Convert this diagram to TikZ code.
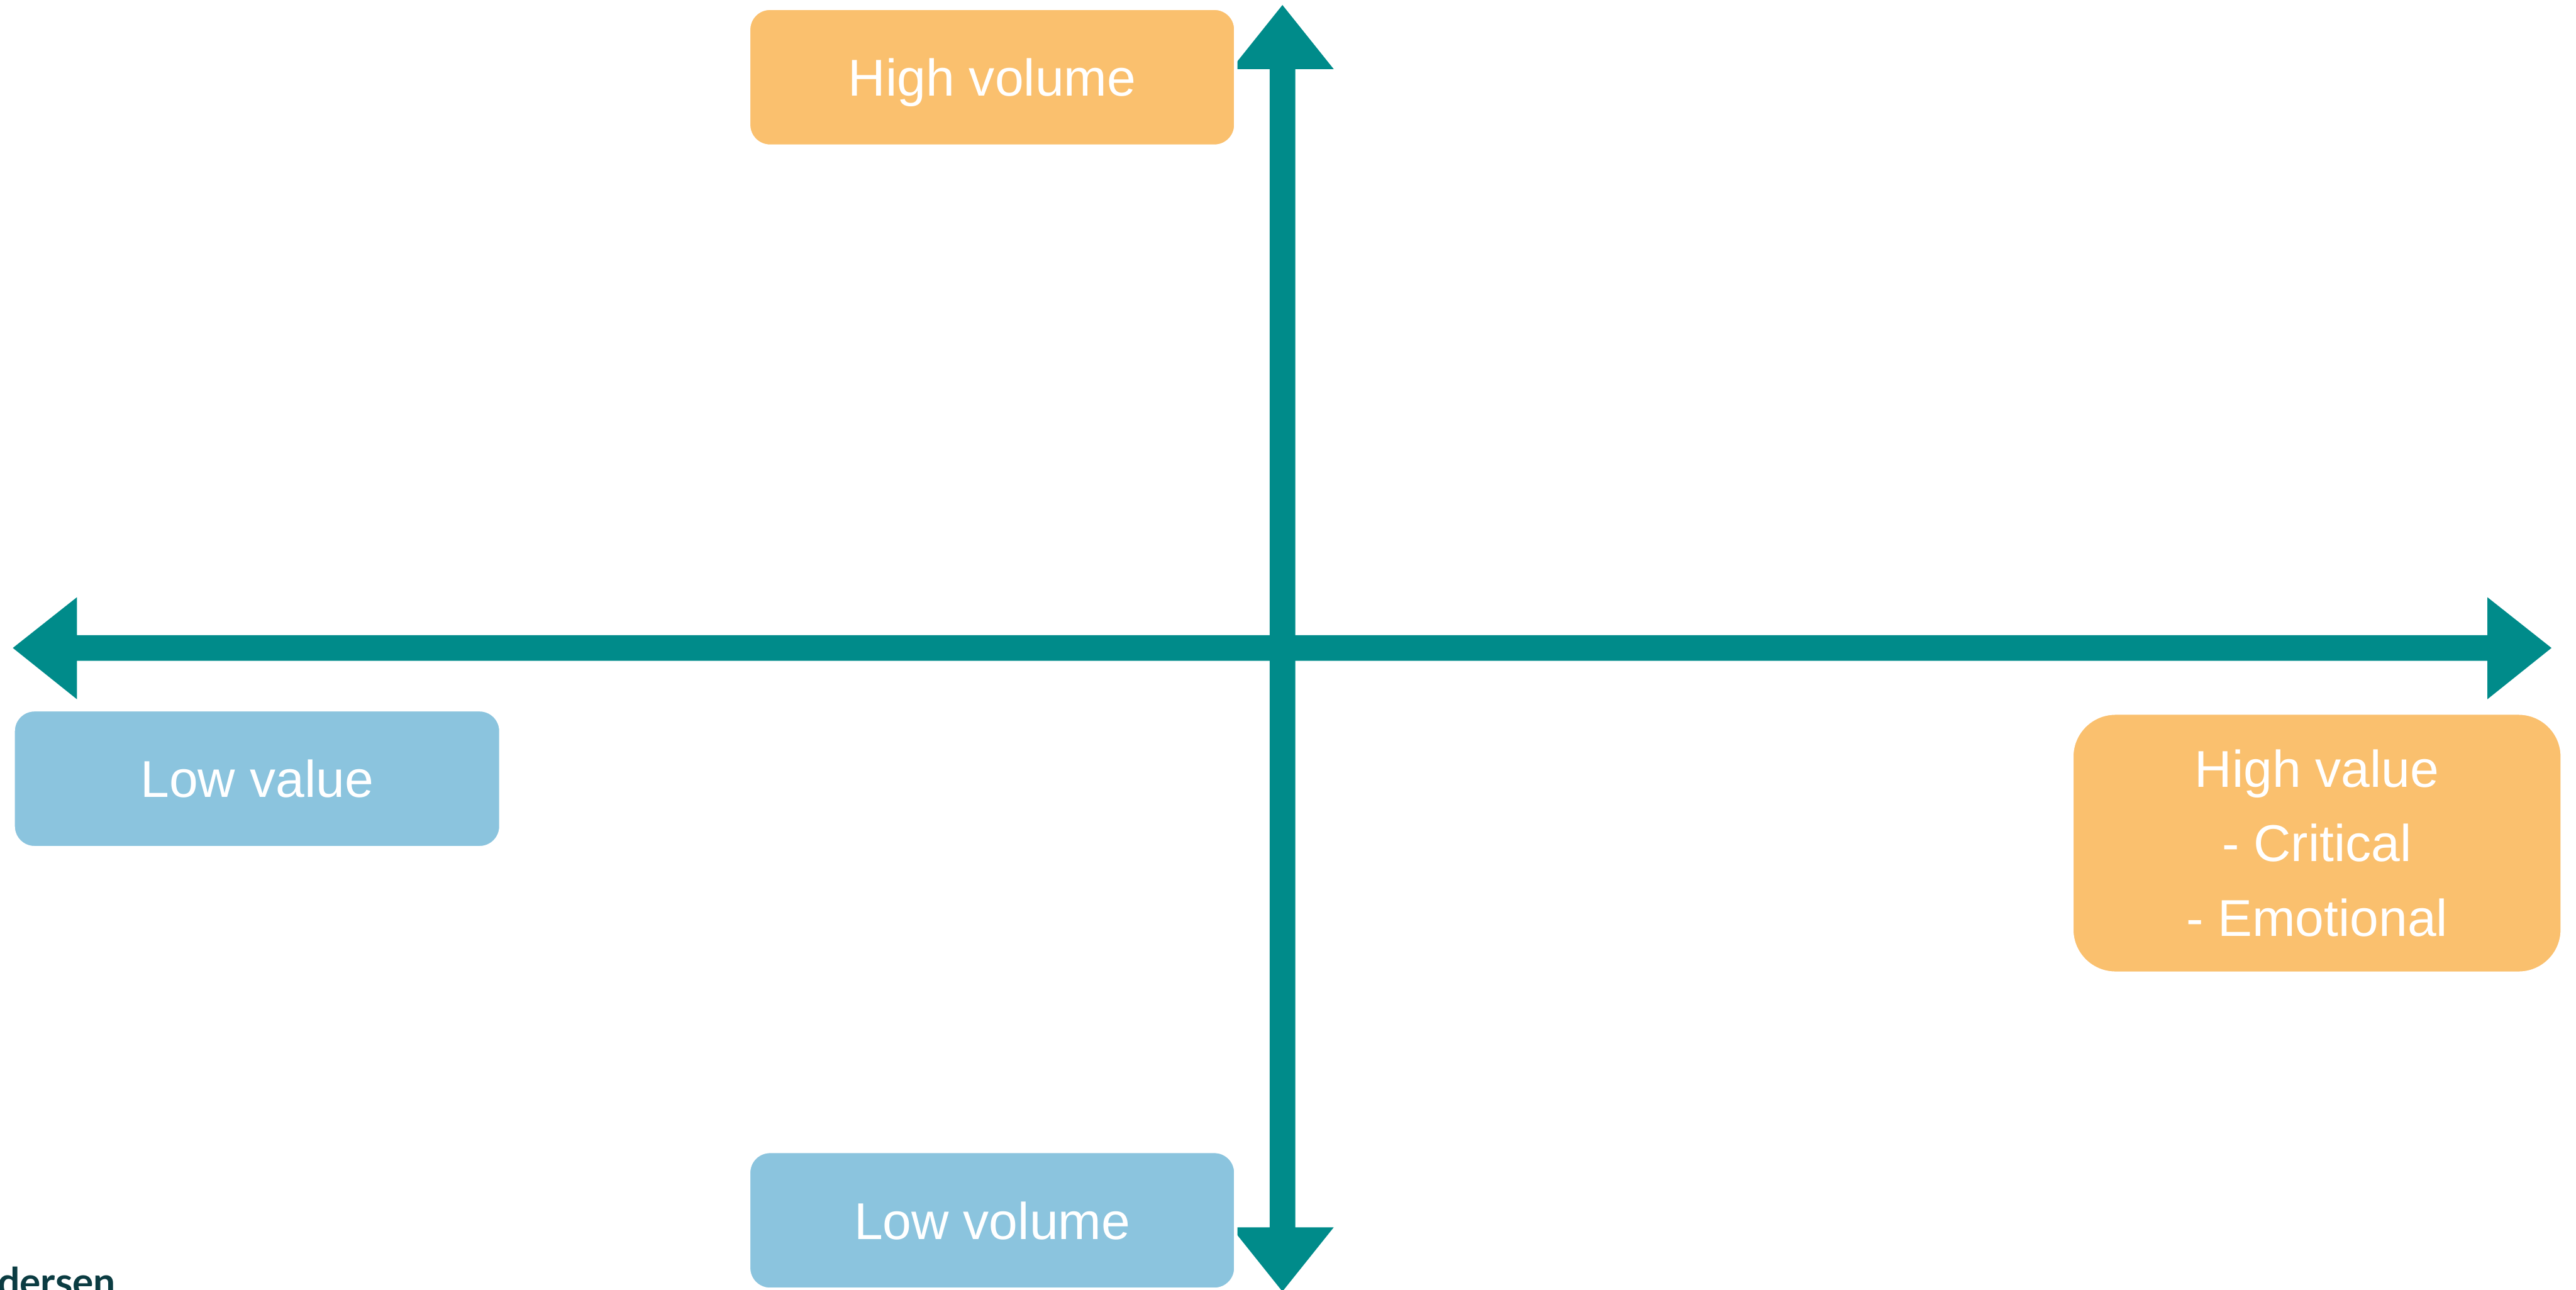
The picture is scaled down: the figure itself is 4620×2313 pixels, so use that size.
\documentclass[tikz,border=0pt]{standalone}
\usepackage{fontspec}
\usetikzlibrary{calc}
\setmainfont{Liberation Sans}
\newfontfamily\logofont{Lato}
\definecolor{axisteal}{RGB}{0,139,138}
\definecolor{boxorange}{RGB}{250,192,110}
\definecolor{boxblue}{RGB}{139,196,222}
\definecolor{logoteal}{RGB}{11,60,66}
\begin{document}
\begin{tikzpicture}[x=0.01cm,y=-0.01cm,
  label box/.style={rectangle, rounded corners=0.38cm, draw=white, line width=0.06cm,
    text=white, inner sep=0pt, align=center,
    font=\fontsize{26.4pt}{38.1pt}\selectfont},
  hi/.style={label box, fill=boxorange},
  lo/.style={label box, fill=boxblue},
  axis/.style={fill=axisteal}]
\useasboundingbox (0,0) rectangle (4620,2313);
\clip (0,0) rectangle (4620,2313);

% origin and axis ends
\coordinate (O) at (2300,1162);
\coordinate (W) at (23,1162);
\coordinate (E) at (4576,1162);
\coordinate (N) at (2300,9);
\coordinate (S) at (2300,2316);

% horizontal axis: value
\fill[axis] (W) -- ++(115,-91) -- ++(0,68) -- ($(E)+(-115,-23)$) -- ++(0,-68)
  -- (E) -- ++(-115,92) -- ++(0,-69) -- ($(W)+(115,23)$) -- ++(0,69) -- cycle;

% vertical axis: volume
\fill[axis] (N) -- ++(92,115) -- ++(-69,0) -- ($(S)+(23,-115)$) -- ++(69,0)
  -- (S) -- ++(-92,-115) -- ++(69,0) -- ($(N)+(-23,115)$) -- ++(-69,0) -- cycle;

% quadrant labels
\node[hi, minimum width=8.73cm, minimum height=2.47cm, text depth=0pt] (highvol) at (1779.5,138.5) {High volume};
\node[lo, minimum width=8.73cm, minimum height=2.47cm, text depth=0pt] (lowvol) at (1779.5,2188.5) {Low volume};
\node[lo, minimum width=8.74cm, minimum height=2.47cm, text depth=0pt] (lowval) at (461,1396.5) {Low value};
\node[hi, rounded corners=0.78cm, minimum width=8.79cm, minimum height=4.66cm] (highval) at (4155.5,1512)
  {High value\\- Critical\\- Emotional};

% logo fragment at the lower left
\node[anchor=base west, inner sep=0pt, text=logoteal,
  font=\logofont\bfseries\fontsize{20pt}{24pt}\selectfont] (logo) at (-5,2324) {dersen};
\end{tikzpicture}
\end{document}
